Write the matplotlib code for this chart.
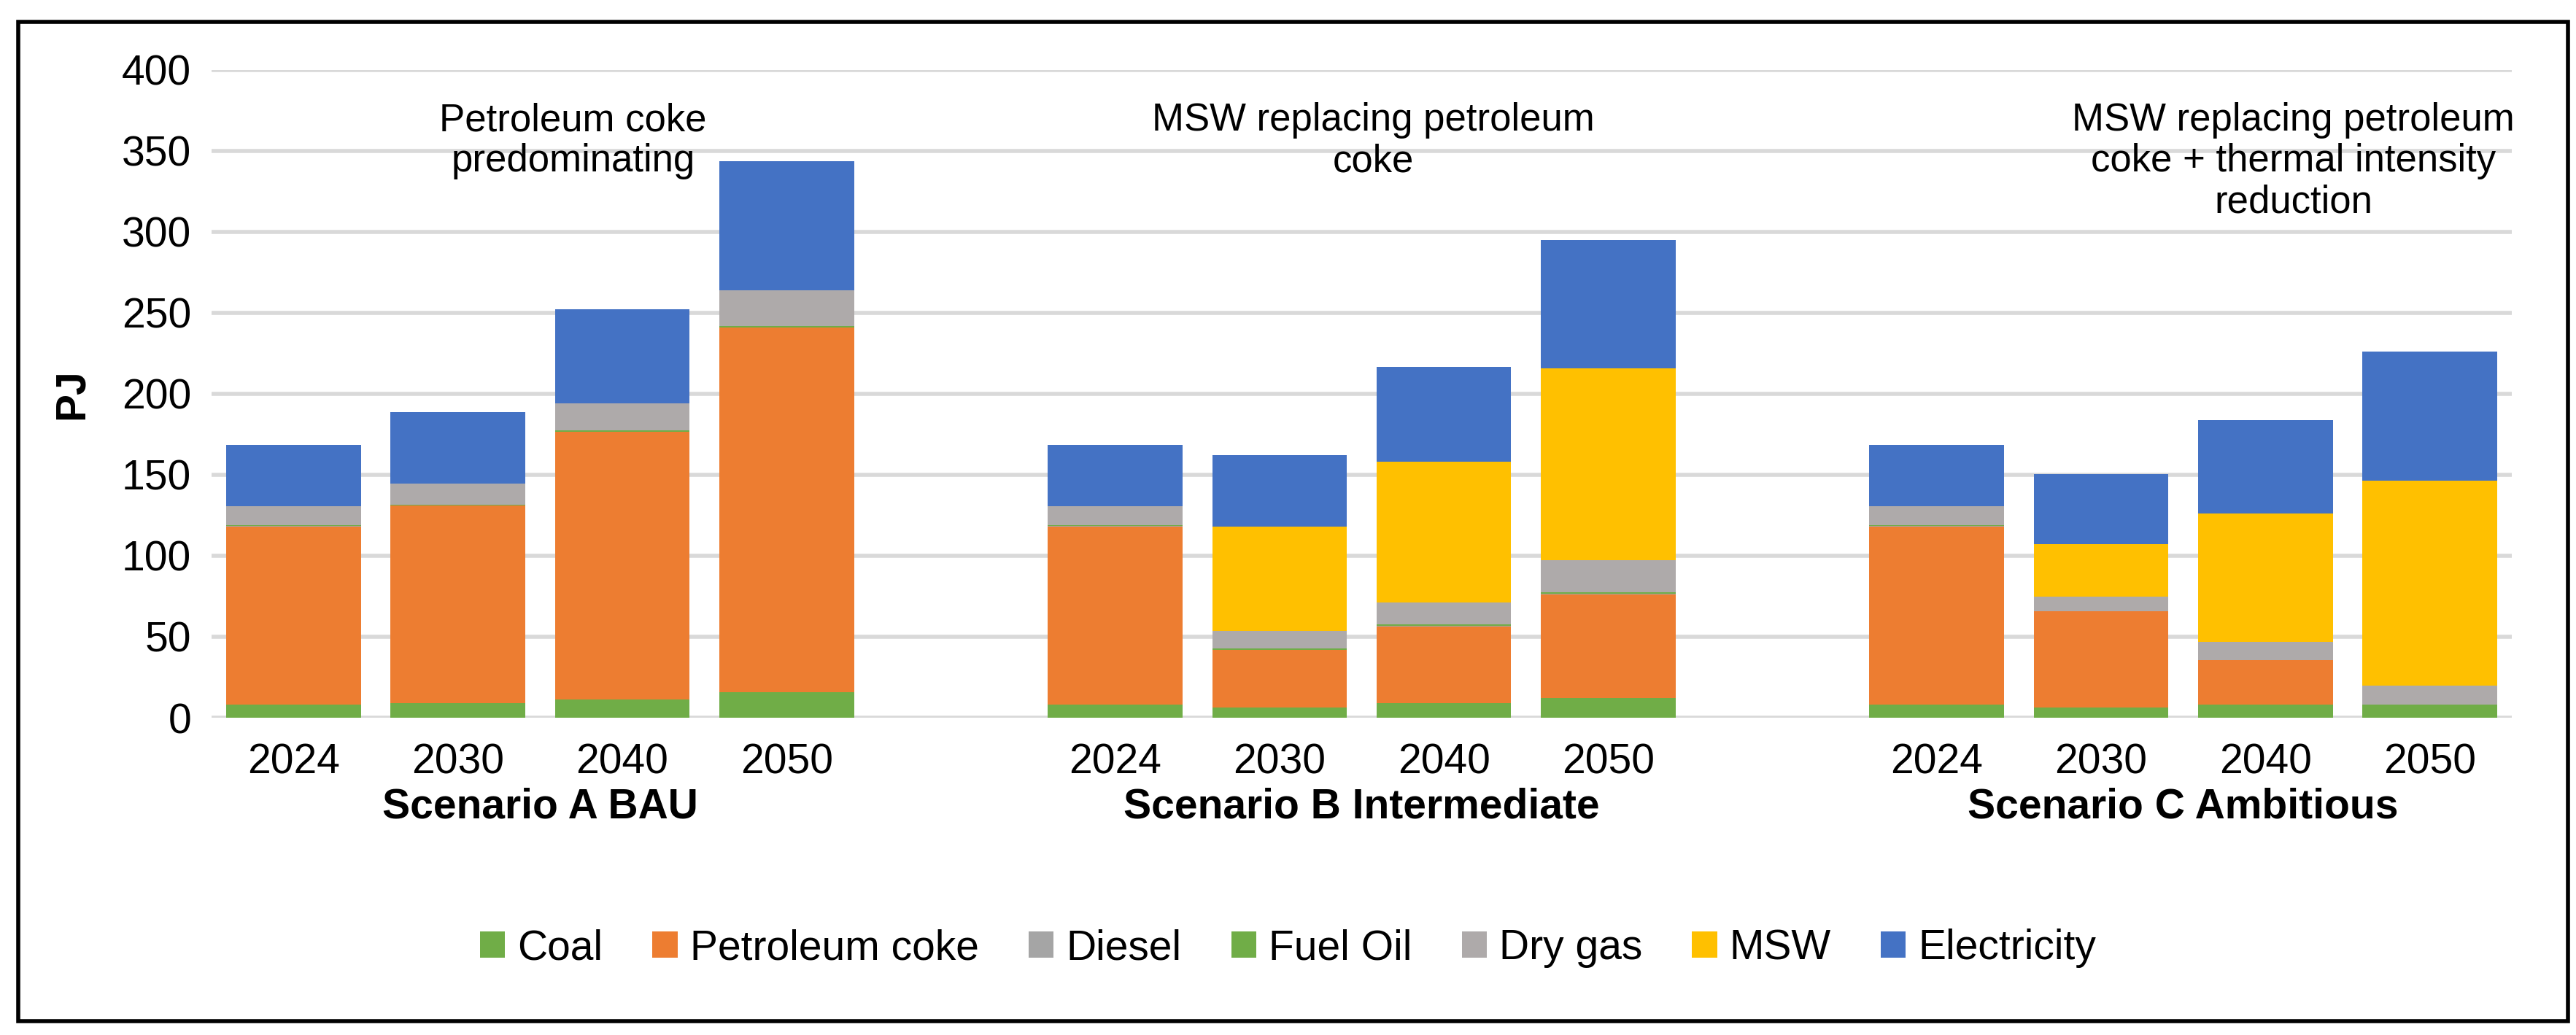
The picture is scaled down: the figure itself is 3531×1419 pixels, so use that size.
import matplotlib.pyplot as plt
from matplotlib.patches import Rectangle
import numpy as np

plt.rcParams['font.family'] = ['Liberation Sans', 'DejaVu Sans']

years = ['2024', '2030', '2040', '2050']
scenarios = ['Scenario A BAU', 'Scenario B Intermediate', 'Scenario C Ambitious']
notes = ['Petroleum coke\npredominating',
         'MSW replacing petroleum\ncoke',
         'MSW replacing petroleum\ncoke + thermal intensity\nreduction']

# values per bar, A 2024..2050, B 2024..2050, C 2024..2050
coal = [8, 9, 11.4, 15.8, 8, 6.3, 8.8, 12.3, 8, 6.3, 7.9, 7.9]
petcoke = [110, 122, 165, 225, 110, 35.5, 47.5, 64, 110, 59.4, 27.8, 0]
diesel = [0.3, 0.3, 0.3, 0.3, 0.3, 0.3, 0.3, 0.3, 0.3, 0, 0, 0]
fuel_oil = [0.8, 0.3, 1, 1, 0.8, 0.8, 1, 1, 0.8, 0, 0, 0]
dry_gas = [11.4, 13.2, 16.5, 22, 11.4, 10.5, 13.5, 19.7, 11.4, 9.2, 11.1, 12.1]
msw = [0, 0, 0, 0, 0, 64.8, 87.2, 118.5, 0, 32.1, 79.2, 126.3]
electricity = [38, 44, 58, 79.5, 38, 43.8, 58.5, 79.2, 38, 43.4, 58, 79.7]

series = [('Coal', coal, '#70AD47'), ('Petroleum coke', petcoke, '#ED7D31'),
          ('Diesel', diesel, '#A5A5A5'), ('Fuel Oil', fuel_oil, '#70AD47'),
          ('Dry gas', dry_gas, '#AEAAAA'), ('MSW', msw, '#FFC000'),
          ('Electricity', electricity, '#4472C4')]

x = np.array([0, 1, 2, 3, 5, 6, 7, 8, 10, 11, 12, 13])

fig = plt.figure(figsize=(35.31, 14.19), dpi=100)
ax = fig.add_axes([290 / 3531, 1 - 984 / 1419, (3443 - 290) / 3531, (984 - 96) / 1419])

bottom = np.zeros(len(x))
for name, vals, col in series:
    ax.bar(x, vals, 0.82, bottom=bottom, color=col, label=name, zorder=3)
    bottom += np.array(vals)

ax.set_xlim(-0.5, 13.5)
ax.set_ylim(0, 400)
ax.set_yticks(range(0, 401, 50))
ax.yaxis.grid(True, color='#D9D9D9', linewidth=4, zorder=0)
for s in ax.spines.values():
    s.set_visible(False)
ax.tick_params(axis='both', length=0, labelsize=41, pad=20)
ax.set_xticks(x)
ax.set_xticklabels(years * 3)
ax.tick_params(axis='x', pad=25)
ax.set_ylabel('PJ', fontsize=41, fontweight='bold', labelpad=30)

for i, sc in enumerate(scenarios):
    cx = i * 5 + 1.5
    ax.text(cx, -0.138, sc, transform=ax.get_xaxis_transform(), ha='center',
            va='center', fontsize=41, fontweight='bold')
ax.text(1.7, 380, notes[0], ha='center', va='top', fontsize=38, linespacing=1.15)
ax.text(6.57, 380, notes[1], ha='center', va='top', fontsize=38, linespacing=1.15)
ax.text(12.17, 380, notes[2], ha='center', va='top', fontsize=38, linespacing=1.15)

fig.legend(loc='center', bbox_to_anchor=(0.5, 1 - 1300 / 1419), ncol=7, frameon=False,
           fontsize=41, handlelength=0.6, handleheight=0.6, handletextpad=0.3,
           columnspacing=1.2)

fig.patches.append(Rectangle((25 / 3531, 1 - 1400 / 1419), 3495 / 3531, 1370 / 1419,
                             transform=fig.transFigure, fill=False, edgecolor='black',
                             linewidth=4))
fig.savefig('out.png', dpi=100)
